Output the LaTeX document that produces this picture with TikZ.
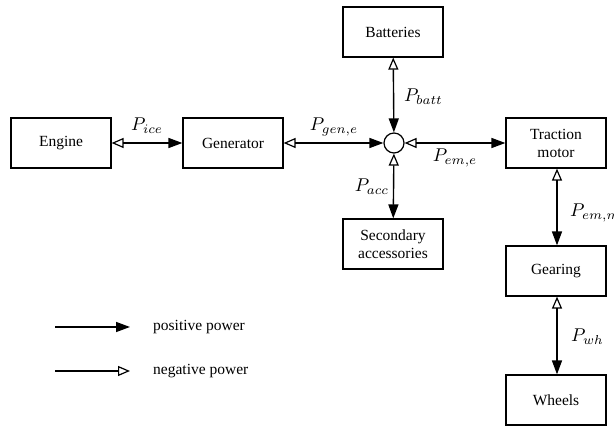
\documentclass[tikz,border=0pt]{standalone}
\usepackage{graphicx}
\usepackage{fontspec}
\setmainfont{Liberation Serif}
\usetikzlibrary{arrows.meta}
\newcommand{\pl}[1]{\scalebox{1.85}{$#1$}}
\begin{document}
\begin{tikzpicture}[x=1pt,y=-1pt,
  blk/.style={draw,line width=1.2pt,minimum width=100pt,minimum height=50pt,align=center,inner sep=0pt,font=\fontsize{15.5}{18}\selectfont},
  junc/.style={draw,circle,line width=1.2pt,minimum size=20pt,inner sep=0pt},
  flow/.style={line width=1.4pt,{Triangle[open,length=12pt,width=10pt,line width=1.2pt]}-{Triangle[length=14pt,width=10pt]}},
  lab/.style={inner sep=0pt},
  txt/.style={font=\fontsize{15.5}{18}\selectfont,anchor=west,inner sep=0pt}]
\useasboundingbox (0,0) rectangle (614,427);
\node[blk] (eng) at (61,143) {Engine};
\node[blk] (gen) at (233,143) {Generator};
\node[junc] (j) at (394,143) {};
\node[blk] (bat) at (393,32) {Batteries};
\node[blk] (acc) at (393,244) {Secondary\\accessories};
\node[blk] (tm) at (556,143) {Traction\\motor};
\node[blk] (gear) at (556,271) {Gearing};
\node[blk] (wh) at (556,400) {Wheels};
\draw[flow] (eng) -- (gen);
\draw[flow] (gen) -- (j);
\draw[flow] (bat) -- (j);
\draw[flow] (j) -- (tm);
\draw[flow] (j) -- (acc);
\draw[flow] (tm.south -| 557,0) -- (gear.north -| 557,0);
\draw[flow] (gear.south -| 557,0) -- (wh.north -| 557,0);
\node[lab] (l1) at (147,126) {\pl{P_{ice}}};
\node[lab] (l2) at (334,127) {\pl{P_{gen,e}}};
\node[lab,anchor=west] (l3) at (404,97) {\pl{P_{batt}}};
\node[lab] (l4) at (455,158) {\pl{P_{em,e}}};
\node[lab] (l5) at (372,187) {\pl{P_{acc}}};
\node[lab,anchor=west] (l6) at (570,213) {\pl{P_{em,m}}};
\node[lab,anchor=west] (l7) at (571,337) {\pl{P_{wh}}};
\coordinate (p1) at (55,327);
\coordinate (p2) at (130,327);
\coordinate (n1) at (55,371);
\coordinate (n2) at (130,371);
\draw[line width=1.4pt,-{Triangle[length=14pt,width=10pt]}] (p1) -- (p2);
\draw[line width=1.4pt,-{Triangle[open,length=12pt,width=10pt,line width=1.2pt]}] (n1) -- (n2);
\node[txt] (t1) at (153,327) {positive power};
\node[txt] (t2) at (153,371) {negative power};
\end{tikzpicture}
\end{document}
